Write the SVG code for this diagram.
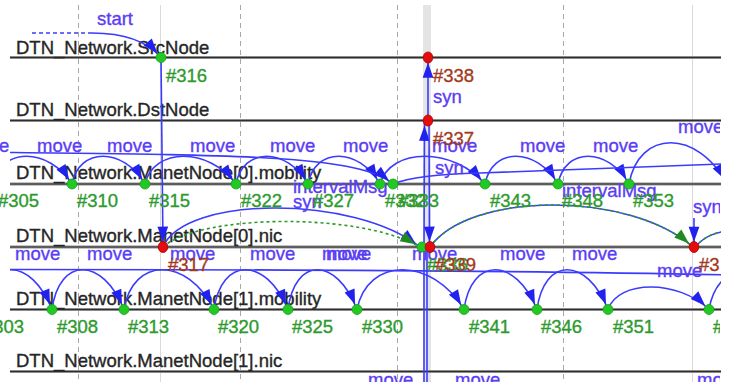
<svg xmlns="http://www.w3.org/2000/svg" width="733" height="382" viewBox="0 0 733 382">
<style>
  text { font-family: "Liberation Sans", Arial, sans-serif; font-size: 18.5px; stroke-width: 0.35px; }
  .axis-label { fill: #262626; stroke: #262626; }
  .axis-line { stroke: #8c8c8c; stroke-width: 3.2; }
  .axis-core { stroke: #2e2e2e; stroke-width: 1.2; }
  .grid { stroke: #a8a8a8; stroke-width: 1; stroke-dasharray: 5 4; }
  .grid-solid { stroke: #d9d9d9; stroke-width: 1; }
  .msg { fill: none; stroke: #3b3bff; stroke-width: 1.6; marker-end: url(#arrow); }
  .msg-plain { fill: none; stroke: #3b3bff; stroke-width: 1.6; }
  .msg-dash { fill: none; stroke: #3b3bff; stroke-width: 1.6; stroke-dasharray: 4 3; }
  .reuse { fill: none; stroke: #2b9a2b; stroke-width: 1.6; stroke-dasharray: 3 3; }
  .reuse-end { marker-end: url(#arrow-green); }
  .mlabel { fill: #5a3df5; stroke: #5a3df5; }
  .enum { fill: #2e9a2e; stroke: #2e9a2e; }
  .enum-red { fill: #a33a22; stroke: #a33a22; }
  .ev { fill: #22c922; stroke: #17a017; stroke-width: 0.8; }
  .ev-red { fill: #e40c0c; stroke: #b00000; stroke-width: 0.8; }
</style>
<defs>
  <marker id="arrow" markerUnits="userSpaceOnUse" markerWidth="15" markerHeight="11" viewBox="0 0 14 10" refX="19" refY="5" orient="auto" overflow="visible">
    <path d="M0,0 L14,5 L0,10 z" fill="#2222ee"/>
  </marker>
  <marker id="arrow-green" markerUnits="userSpaceOnUse" markerWidth="15" markerHeight="11" viewBox="0 0 14 10" refX="19" refY="5" orient="auto" overflow="visible">
    <path d="M0,0 L14,5 L0,10 z" fill="#1f8a1f"/>
  </marker>
  <clipPath id="chart-clip"><rect x="10" y="0" width="711" height="382"/></clipPath>
  <clipPath id="label-clip"><rect x="0" y="0" width="720" height="382"/></clipPath>
</defs>

<rect width="733" height="382" fill="#ffffff"/>

<!-- time grid -->
<g id="grid">
  <rect x="423" y="5" width="8" height="377" fill="#e4e4e4"/>
  <line class="grid-solid" x1="160.5" y1="5" x2="160.5" y2="382"/>
  <line class="grid-solid" x1="692.5" y1="5" x2="692.5" y2="382"/>
  <line class="grid" x1="78.5" y1="5" x2="78.5" y2="382"/>
  <line class="grid" x1="240.5" y1="5" x2="240.5" y2="382"/>
  <line class="grid" x1="397.5" y1="5" x2="397.5" y2="382"/>
  <line class="grid" x1="563.5" y1="5" x2="563.5" y2="382"/>
</g>

<!-- module axes -->
<g id="axis-srcnode">
  <line class="axis-line" x1="10" y1="57.5" x2="721" y2="57.5"/>
  <line class="axis-core" x1="10" y1="57.5" x2="721" y2="57.5"/>
  <text class="axis-label" x="16" y="54">DTN_Network.SrcNode</text>
</g>
<g id="axis-dstnode">
  <line class="axis-line" x1="10" y1="120.5" x2="721" y2="120.5"/>
  <line class="axis-core" x1="10" y1="120.5" x2="721" y2="120.5"/>
  <text class="axis-label" x="16" y="116">DTN_Network.DstNode</text>
</g>
<g id="axis-manet0-mobility">
  <line class="axis-line" x1="10" y1="184" x2="721" y2="184"/>
  <line class="axis-core" x1="10" y1="184" x2="721" y2="184"/>
  <text class="axis-label" x="16" y="179">DTN_Network.ManetNode[0].mobility</text>
</g>
<g id="axis-manet0-nic">
  <line class="axis-line" x1="10" y1="247" x2="721" y2="247"/>
  <line class="axis-core" x1="10" y1="247" x2="721" y2="247"/>
  <text class="axis-label" x="16" y="242">DTN_Network.ManetNode[0].nic</text>
</g>
<g id="axis-manet1-mobility">
  <line class="axis-line" x1="10" y1="309.5" x2="721" y2="309.5"/>
  <line class="axis-core" x1="10" y1="309.5" x2="721" y2="309.5"/>
  <text class="axis-label" x="16" y="305">DTN_Network.ManetNode[1].mobility</text>
</g>
<g id="axis-manet1-nic">
  <line class="axis-line" x1="10" y1="371.5" x2="721" y2="371.5"/>
  <line class="axis-core" x1="10" y1="371.5" x2="721" y2="371.5"/>
  <text class="axis-label" x="16" y="367">DTN_Network.ManetNode[1].nic</text>
</g>

<!-- message arrows -->
<g id="connectors" clip-path="url(#chart-clip)">
  <!-- start self-message into SrcNode -->
  <path class="msg-dash" d="M32,33 L92,33"/>
  <path class="msg" d="M92,33 Q140,33 161,57.5"/>
  <!-- SrcNode -> nic[0] -->
  <path class="msg" d="M161,57.5 L163,247"/>
  <!-- DstNode <-> nic[0] / SrcNode -->
  <path class="msg" d="M428,120.5 L428,57.5"/>
  <path class="msg" d="M424,247 L424.5,120.5"/>
  <path class="msg" d="M429,120.5 L429.5,247"/>
  <path class="msg-plain" d="M424,247 L424,382"/>
  <path class="msg-plain" d="M427,247 L427,382"/>

  <!-- ManetNode[0].mobility move timers -->
  <path class="msg" d="M-7,184 C0.9,147 48.3,147 72,184"/>
  <path class="msg" d="M72,184 C79.3,147 123.1,147 145,184"/>
  <path class="msg" d="M145,184 C154.1,147 208.7,147 236,184"/>
  <path class="msg" d="M236,184 C243.2,147 286.4,147 308,184"/>
  <path class="msg" d="M308,184 C315.2,147 358.4,147 380,184"/>
  <path class="msg" d="M380,184 C390.5,147 453.5,147 485,184"/>
  <path class="msg" d="M485,184 C492.3,147 536.1,147 558,184"/>
  <path class="msg" d="M558,184 C565.1,147 607.7,147 629,184"/>
  <path class="msg" d="M629,184 C638.8,129 697.6,129 727,184"/>
  <path class="msg" d="M10,152.5 C250,155 360,156 393,184"/>
  <path class="msg-plain" d="M393,184 C410,177 440,174 480,173 L721,164"/>

  <!-- ManetNode[0].nic -->
  <path class="msg" d="M163,247 C185,195 355,195 420,247"/>
  <path class="reuse reuse-end" d="M163,247 C200,214 360,212 420,247"/>
  <path class="msg-plain" d="M430,247 C470,191 630,191 693,247"/>
  <path class="reuse reuse-end" d="M430,247 C470,191 630,191 693,247"/>
  <path class="msg-plain" d="M695,247 C705,236 715,232 733,230"/>
  <path class="reuse" d="M695,247 C705,236 715,232 733,230"/>
  <path class="msg" d="M694,218 L694,247"/>

  <!-- ManetNode[1].mobility move timers -->
  <path class="msg-plain" d="M10,269.5 C300,269.5 550,271 733,275"/>
  <path class="msg" d="M-19,309.5 C-11.9,256.5 30.7,256.5 52,309.5"/>
  <path class="msg" d="M52,309.5 C59.2,256.5 102.4,256.5 124,309.5"/>
  <path class="msg" d="M124,309.5 C133,256.5 187,256.5 214,309.5"/>
  <path class="msg" d="M214,309.5 C221.4,256.5 265.8,256.5 288,309.5"/>
  <path class="msg" d="M288,309.5 C294.9,256.5 336.3,256.5 357,309.5"/>
  <path class="msg" d="M357,309.5 C367.7,256.5 431.9,256.5 464,309.5"/>
  <path class="msg" d="M464,309.5 C471.3,256.5 515.1,256.5 537,309.5"/>
  <path class="msg" d="M537,309.5 C544.1,256.5 586.7,256.5 608,309.5"/>
  <path class="msg" d="M608,309.5 C618.1,279.5 678.7,279.5 709,309.5"/>
  <path class="msg-plain" d="M709,309.5 C718,256.5 773,256.5 800,309.5"/>
</g>

<!-- message names -->
<g id="message-labels" class="mlabel" clip-path="url(#label-clip)">
  <text x="97" y="25">start</text>
  <text x="433" y="103">syn</text>
  <text x="-36" y="152">move</text>
  <text x="37" y="152">move</text>
  <text x="107" y="152">move</text>
  <text x="190" y="152">move</text>
  <text x="270" y="152">move</text>
  <text x="343" y="152">move</text>
  <text x="432" y="152">move</text>
  <text x="520" y="152">move</text>
  <text x="593" y="152">move</text>
  <text x="678" y="133">move</text>
  <text x="435" y="174">syn</text>
  <text x="293" y="193">intervalMsg</text>
  <text x="293" y="208">syn</text>
  <text x="562" y="197">intervalMsg</text>
  <text x="693" y="213">syn</text>
  <text x="15" y="260">move</text>
  <text x="87" y="260">move</text>
  <text x="170" y="260">move</text>
  <text x="250" y="260">move</text>
  <text x="322" y="260">move</text>
  <text x="326" y="260">move</text>
  <text x="412" y="260">move</text>
  <text x="500" y="260">move</text>
  <text x="572" y="260">move</text>
  <text x="657" y="277">move</text>
  <text x="368" y="386">move</text>
  <text x="455" y="386">move</text>
  <text x="697" y="386">move</text>
</g>

<!-- events -->
<g id="events" clip-path="url(#label-clip)">
  <g id="events-srcnode">
    <circle class="ev" cx="161" cy="57.5" r="5"/>
    <ellipse class="ev-red" cx="428" cy="57.5" rx="4.8" ry="5.5"/>
    <text class="enum" x="166" y="82">#316</text>
    <text class="enum-red" x="433" y="82">#338</text>
  </g>
  <g id="events-dstnode">
    <ellipse class="ev-red" cx="428" cy="120.5" rx="4.8" ry="5.5"/>
    <text class="enum-red" x="433" y="145">#337</text>
  </g>
  <g id="events-manet0-mobility">
    <circle class="ev" cx="72" cy="184" r="5"/>
    <circle class="ev" cx="145" cy="184" r="5"/>
    <circle class="ev" cx="236" cy="184" r="5"/>
    <circle class="ev" cx="308" cy="184" r="5"/>
    <circle class="ev" cx="380" cy="184" r="5"/>
    <circle class="ev" cx="393" cy="184" r="5"/>
    <circle class="ev" cx="485" cy="184" r="5"/>
    <circle class="ev" cx="558" cy="184" r="5"/>
    <circle class="ev" cx="629" cy="184" r="5"/>
    <text class="enum" x="-2" y="207">#305</text>
    <text class="enum" x="77" y="207">#310</text>
    <text class="enum" x="149" y="207">#315</text>
    <text class="enum" x="241" y="207">#322</text>
    <text class="enum" x="313" y="207">#327</text>
    <text class="enum" x="385" y="207">#332</text>
    <text class="enum" x="398" y="207">#333</text>
    <text class="enum" x="490" y="207">#343</text>
    <text class="enum" x="562" y="207">#348</text>
    <text class="enum" x="633" y="207">#353</text>
  </g>
  <g id="events-manet0-nic">
    <ellipse class="ev-red" cx="163" cy="247" rx="4.8" ry="5.5"/>
    <circle class="ev" cx="422" cy="247" r="5"/>
    <ellipse class="ev-red" cx="430" cy="247" rx="4.8" ry="5.5"/>
    <ellipse class="ev-red" cx="694" cy="247" rx="4.8" ry="5.5"/>
    <text class="enum-red" x="168" y="271">#317</text>
    <text class="enum" x="427" y="271">#336</text>
    <text class="enum-red" x="435" y="271">#339</text>
    <text class="enum-red" x="699" y="271">#357</text>
  </g>
  <g id="events-manet1-mobility">
    <circle class="ev" cx="52" cy="309.5" r="5"/>
    <circle class="ev" cx="124" cy="309.5" r="5"/>
    <circle class="ev" cx="214" cy="309.5" r="5"/>
    <circle class="ev" cx="288" cy="309.5" r="5"/>
    <circle class="ev" cx="357" cy="309.5" r="5"/>
    <circle class="ev" cx="464" cy="309.5" r="5"/>
    <circle class="ev" cx="537" cy="309.5" r="5"/>
    <circle class="ev" cx="608" cy="309.5" r="5"/>
    <circle class="ev" cx="709" cy="309.5" r="5"/>
    <text class="enum" x="-17" y="333">#303</text>
    <text class="enum" x="57" y="333">#308</text>
    <text class="enum" x="128" y="333">#313</text>
    <text class="enum" x="218" y="333">#320</text>
    <text class="enum" x="292" y="333">#325</text>
    <text class="enum" x="362" y="333">#330</text>
    <text class="enum" x="469" y="333">#341</text>
    <text class="enum" x="541" y="333">#346</text>
    <text class="enum" x="613" y="333">#351</text>
    <text class="enum" x="713" y="333">#356</text>
  </g>
</g>
</svg>
